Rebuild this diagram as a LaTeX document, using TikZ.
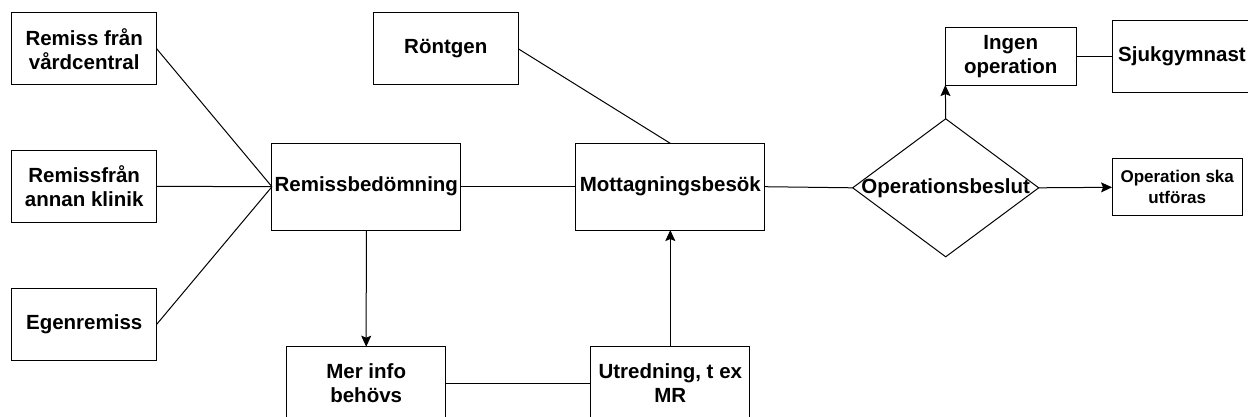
\documentclass[tikz,border=0pt]{standalone}
\usepackage{fontspec}
\setmainfont{Liberation Sans}
\usetikzlibrary{shapes.geometric,arrows.meta}

\tikzset{
  box/.style={draw, line width=1pt, inner sep=0pt, outer sep=0pt, align=center,
    font=\bfseries\fontsize{20.5}{24}\selectfont},
  smallbox/.style={box, font=\bfseries\fontsize{17}{21}\selectfont},
  decision/.style={draw, diamond, line width=1pt, inner sep=0pt, outer sep=0pt},
  link/.style={line width=1pt},
  arr/.style={link, -{Stealth[length=11pt,width=10pt,inset=2pt]}}
}

\begin{document}
\begin{tikzpicture}[x=1pt, y=-1pt]
  \useasboundingbox (0,0) rectangle (1248,416);
  \fill[white] (0,0) rectangle (1248,416);
  \clip (0,0) rectangle (1248,416);

  % referral sources
  \node[box, minimum width=145pt, minimum height=72.3pt] (rvc)  at (84.2,48.8)  {Remiss från\\vårdcentral};
  \node[box, minimum width=145pt, minimum height=72.3pt] (rak)  at (84.2,186.3) {Remissfrån\\annan klinik};
  \node[box, minimum width=145pt, minimum height=72.3pt] (egen) at (84.2,324.3) {Egenremiss};

  % main flow
  \node[box, minimum width=188.7pt, minimum height=86.7pt] (rb)   at (366.3,186.7) {Remissbedömning};
  \node[box, minimum width=145pt,   minimum height=72.3pt] (ront) at (445.8,48.8)  {Röntgen};
  \node[box, minimum width=188.7pt, minimum height=86.7pt] (mott) at (670.3,186.7) {Mottagningsbesök};
  \node[box, minimum width=159pt,   minimum height=73pt]   (mer)  at (366.2,383.2) {Mer info\\behövs};
  \node[box, minimum width=159.3pt, minimum height=73pt]   (utr)  at (670.3,383.2) {Utredning, t ex\\MR};

  % decision
  \node[decision, minimum width=186pt, minimum height=138pt] (dec) at (945.7,187.8) {};
  \node[font=\bfseries\fontsize{20.5}{24}\selectfont, inner sep=0pt] (declbl) at (dec.center) {Operationsbeslut};

  % outcomes
  \node[box, minimum width=130.7pt, minimum height=57.7pt] (ingen) at (1010.7,56.2)  {Ingen\\operation};
  \node[box, minimum width=140pt,   minimum height=72.3pt] (sjuk)  at (1182,56.2)    {Sjukgymnast};
  \node[smallbox, minimum width=130.3pt, minimum height=56.7pt] (opska) at (1177.2,187.3) {Operation ska\\utföras};

  % connectors
  \draw[link] (rvc.east)  -- (rb.west);
  \draw[link] (rak.east)  -- (rb.west);
  \draw[link] (egen.east) -- (rb.west);
  \draw[link] (ront.east) -- (mott.north);
  \draw[link] (rb.east)   -- (mott.west);
  \draw[arr]  (rb.south)  -- (mer.north);
  \draw[link] (mer.east)  -- (utr.west);
  \draw[arr]  (utr.north) -- (mott.south);
  \draw[link] (mott.east) -- (dec.west);
  \draw[arr]  (dec.north) -- (ingen.south west);
  \draw[arr]  (dec.east)  -- (opska.west);
  \draw[link] (ingen.east) -- (sjuk.west);
\end{tikzpicture}
\end{document}
